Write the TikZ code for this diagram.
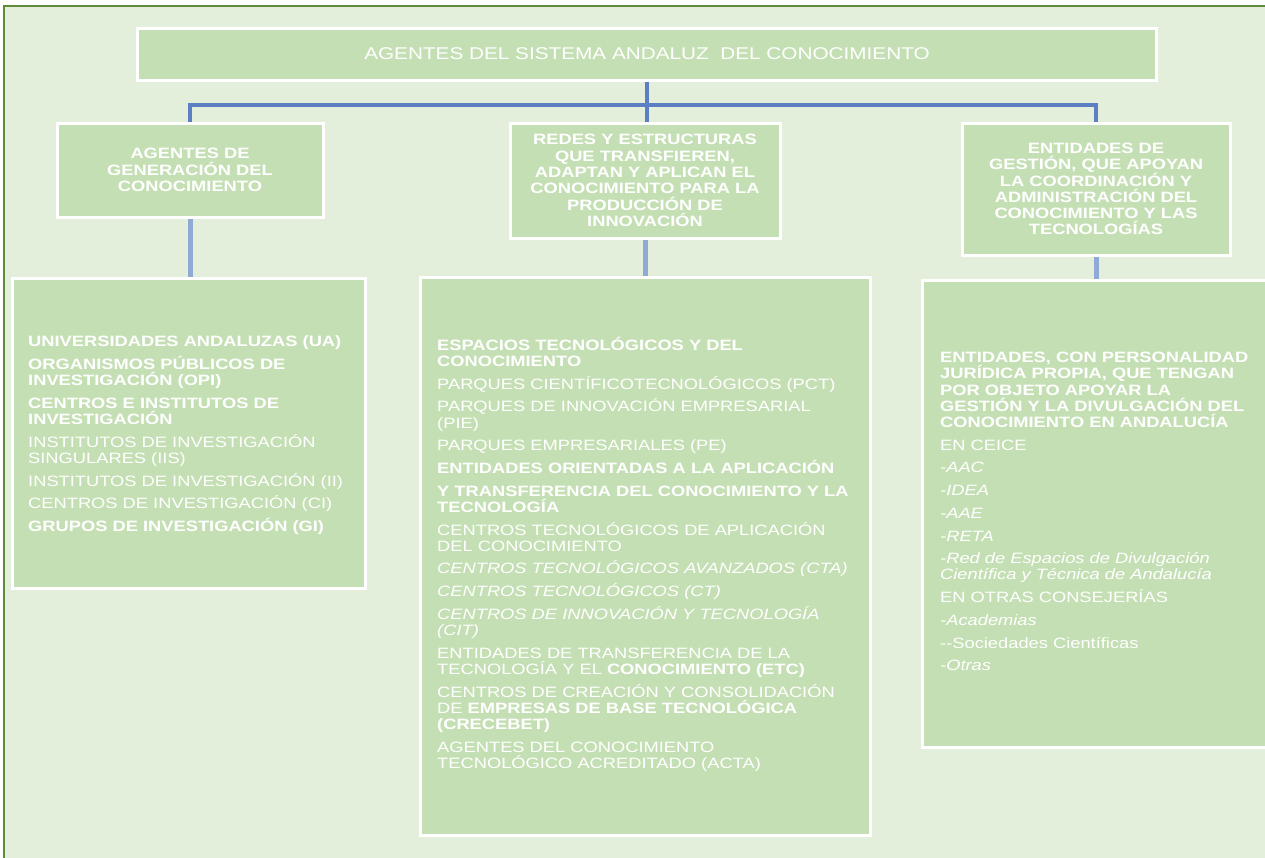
\documentclass[tikz,border=0pt]{standalone}
\usepackage{fontspec}
\setmainfont{Liberation Sans}[FakeStretch = 1.22]

\definecolor{pagegreen}{HTML}{E3EFDA}
\definecolor{edgegreen}{HTML}{5E8A3A}
\definecolor{boxgreen}{HTML}{C5DFB4}
\definecolor{linkblue}{HTML}{5B7FC2}
\definecolor{linklight}{HTML}{8FAAD7}

\newcommand{\headfont}{\fontsize{15}{16.3}\selectfont\bfseries\lineskiplimit=-20pt}
\newcommand{\boxfont}{\fontsize{15}{16.2}\selectfont\lineskiplimit=-20pt}

\tikzset{
  greenbox/.style = {fill = boxgreen, draw = white, line width = 3pt, inner sep = 0pt},
  titlebox/.style = {greenbox, text = white, font = \fontsize{17}{18}\selectfont},
  headbox/.style = {greenbox, text = white, align = center, font = \headfont},
  listbox/.style = {greenbox},
  listtext/.style = {anchor = north west, align = left, inner sep = 0pt, text = white, font = \boxfont},
  trunk/.style = {-, line width = 4pt, linkblue},
  branch/.style = {-, line width = 5pt, linklight}
}

\begin{document}
\begin{tikzpicture}[x = 1pt, y = -1pt]
  % page
  % ----
  \useasboundingbox (0, 0) rectangle (1265, 857);
  \fill [pagegreen] (4, 6) rectangle (1275, 865);
  \draw [-, line width = 2pt, edgegreen]
    (4, 865) --
    (4, 6) --
    (1275, 6)
  ;

  % title and headers
  % -----------------
  \node [titlebox, minimum width = 1019pt, minimum height = 52pt] (sistema) at (647, 54)
    {AGENTES DEL SISTEMA ANDALUZ\ \ DEL CONOCIMIENTO};

  \node [headbox, minimum width = 266pt, minimum height = 94pt] (generacion) at (190, 170)
    {AGENTES DE\\GENERACIÓN DEL\\CONOCIMIENTO};
  \node [headbox, minimum width = 270pt, minimum height = 115pt] (redes) at (645, 180.5)
    {REDES Y ESTRUCTURAS\\QUE TRANSFIEREN,\\ADAPTAN Y APLICAN EL\\CONOCIMIENTO PARA LA\\PRODUCCIÓN DE\\INNOVACIÓN};
  \node [headbox, minimum width = 268pt, minimum height = 132pt] (gestion) at (1096, 189)
    {ENTIDADES DE\\GESTIÓN, QUE APOYAN\\LA COORDINACIÓN Y\\ADMINISTRACIÓN DEL\\CONOCIMIENTO Y LAS\\TECNOLOGÍAS};

  % lists
  % -----
  \node [listbox, minimum width = 353pt, minimum height = 310pt] (generacionbox) at (188.5, 433) {};
  \node [listbox, minimum width = 450pt, minimum height = 558pt] (redesbox) at (645, 556) {};
  \node [listbox, minimum width = 350pt, minimum height = 467pt] (gestionbox) at (1097, 513.5) {};

  \node [listtext] (generacionlist) at (28, 332) {%
    \rule{0pt}{14.5pt}\textbf{UNIVERSIDADES ANDALUZAS (UA)}\\[6.5pt]
    \textbf{ORGANISMOS PÚBLICOS DE}\\
    \textbf{INVESTIGACIÓN (OPI)}\\[6.5pt]
    \textbf{CENTROS E INSTITUTOS DE}\\
    \textbf{INVESTIGACIÓN}\\[6.5pt]
    INSTITUTOS DE INVESTIGACIÓN\\
    SINGULARES (IIS)\\[6.5pt]
    INSTITUTOS DE INVESTIGACIÓN (II)\\[6.5pt]
    CENTROS DE INVESTIGACIÓN (CI)\\[6.5pt]
    \textbf{GRUPOS DE INVESTIGACIÓN (GI)}};

  \node [listtext] (redeslist) at (437, 335.5) {%
    \rule{0pt}{14.5pt}\textbf{ESPACIOS TECNOLÓGICOS Y DEL}\\
    \textbf{CONOCIMIENTO}\\[6.5pt]
    PARQUES CIENTÍFICOTECNOLÓGICOS (PCT)\\[6.5pt]
    PARQUES DE INNOVACIÓN EMPRESARIAL\\
    (PIE)\\[6.5pt]
    PARQUES EMPRESARIALES (PE)\\[6.5pt]
    \textbf{ENTIDADES ORIENTADAS A LA APLICACIÓN}\\[6.5pt]
    \textbf{Y TRANSFERENCIA DEL CONOCIMIENTO Y LA}\\
    \textbf{TECNOLOGÍA}\\[6.5pt]
    CENTROS TECNOLÓGICOS DE APLICACIÓN\\
    DEL CONOCIMIENTO\\[6.5pt]
    \textit{CENTROS TECNOLÓGICOS AVANZADOS (CTA)}\\[6.5pt]
    \textit{CENTROS TECNOLÓGICOS (CT)}\\[6.5pt]
    \textit{CENTROS DE INNOVACIÓN Y TECNOLOGÍA}\\
    \textit{(CIT)}\\[6.5pt]
    ENTIDADES DE TRANSFERENCIA DE LA\\
    TECNOLOGÍA Y EL \textbf{CONOCIMIENTO (ETC)}\\[6.5pt]
    CENTROS DE CREACIÓN Y CONSOLIDACIÓN\\
    DE \textbf{EMPRESAS DE BASE TECNOLÓGICA}\\
    \textbf{(CRECEBET)}\\[6.5pt]
    AGENTES DEL CONOCIMIENTO\\
    TECNOLÓGICO ACREDITADO (ACTA)};

  \node [listtext] (gestionlist) at (940, 348) {%
    \rule{0pt}{14.5pt}\textbf{ENTIDADES, CON PERSONALIDAD}\\
    \textbf{JURÍDICA PROPIA, QUE TENGAN}\\
    \textbf{POR OBJETO APOYAR LA}\\
    \textbf{GESTIÓN Y LA DIVULGACIÓN DEL}\\
    \textbf{CONOCIMIENTO EN ANDALUCÍA}\\[6.5pt]
    EN CEICE\\[6.5pt]
    \textit{-AAC}\\[6.5pt]
    \textit{-IDEA}\\[6.5pt]
    \textit{-AAE}\\[6.5pt]
    \textit{-RETA}\\[6.5pt]
    \textit{-Red de Espacios de Divulgación}\\
    \textit{Científica y Técnica de Andalucía}\\[6.5pt]
    EN OTRAS CONSEJERÍAS\\[6.5pt]
    \textit{-Academias}\\[6.5pt]
    {-}-Sociedades Científicas\\[6.5pt]
    \textit{-Otras}};

  % connectors
  % ----------
  \draw [trunk] (sistema.south) -- ++(0, 23) coordinate (split);
  \draw [trunk]
    (generacion.north) |-
    (split) -|
    (gestion.north)
  ;
  \draw [trunk] (split) -- (split |- redes.north);

  \draw [branch] (generacion.south) -- (generacion.south |- generacionbox.north);
  \draw [branch] (redes.south) -- (redes.south |- redesbox.north);
  \draw [branch] (gestion.south) -- (gestion.south |- gestionbox.north);
\end{tikzpicture}
\end{document}
